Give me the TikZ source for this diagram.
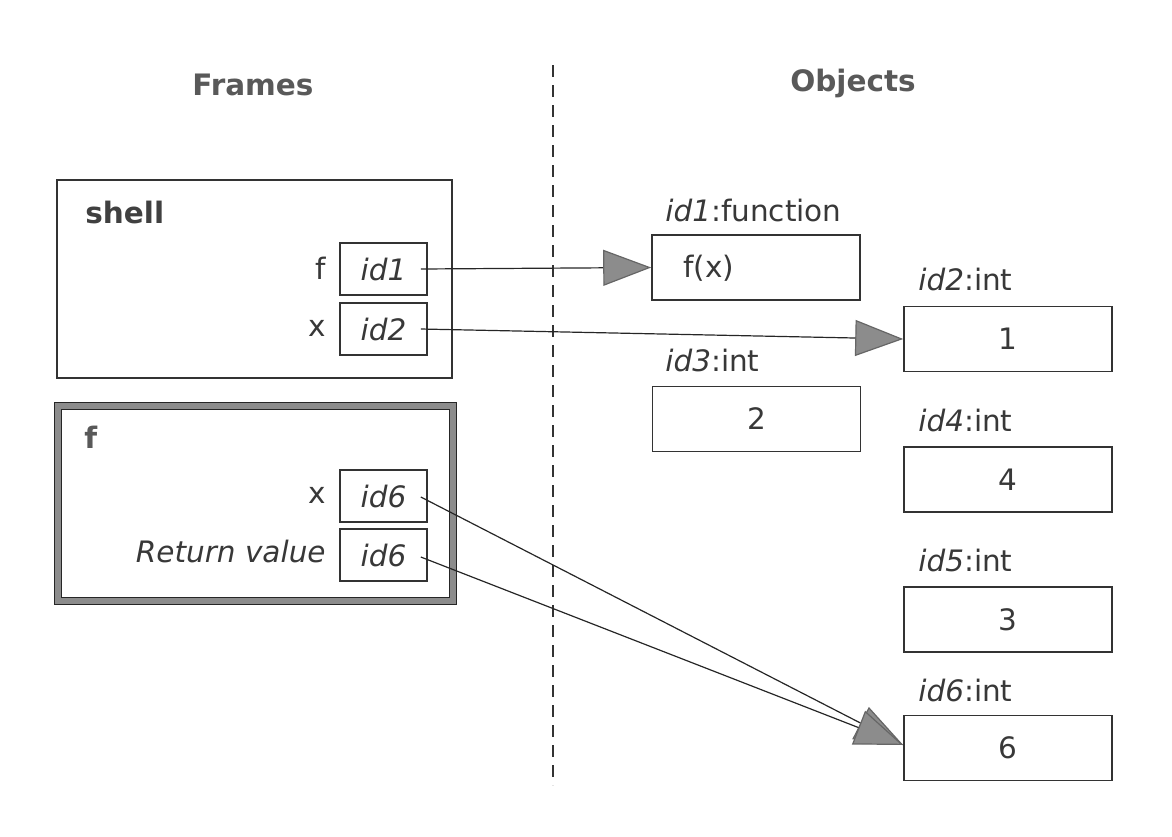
\documentclass[tikz,border=0pt]{standalone}
\usepackage{fontspec}
\setmainfont{DejaVu Sans}
\usetikzlibrary{arrows.meta}
\begin{document}
\begin{tikzpicture}[x=0.5pt,y=-0.5pt,
  every node/.style={font=\fontsize{14.75}{17}\selectfont, inner sep=0pt, text=black!78},
  hdr/.style={font=\fontsize{14.75}{17}\selectfont\bfseries, text=black!65},
  idbox/.style={draw=black!80, line width=0.8pt, minimum width=43.5pt, minimum height=26pt, font=\fontsize{14.75}{17}\selectfont\itshape},
  objbox/.style={draw=black!80, line width=0.8pt, minimum width=104pt, minimum height=32.5pt},
  ref/.style={line width=0.6pt, draw=black!85, -{Triangle[length=24pt,width=18pt,color=black!60,fill=black!45]}},
]
\useasboundingbox (0,0) rectangle (1172,836);
% divider
\coordinate (dtop) at (553,65);
\coordinate (dbot) at (553,785);
\draw[line width=0.6pt, black!80, dash pattern=on 6pt off 4pt] (dtop) -- (dbot);
% headers
\node[hdr] (hframes) at (253,85) {Frames};
\node[hdr] (hobjects) at (853,83) {Objects};
% shell frame
\node[draw=black!80, line width=0.8pt, minimum width=197.5pt, minimum height=99pt] (shell) at (254.5,279) {};
\node[hdr, text=black!75, anchor=west] (shellt) at (85,212) {shell};
\node[anchor=east] (lf) at (326,268) {f};
\node[idbox] (b1) at (383.5,269) {id1};
\node[anchor=east] (lx) at (326,328) {x};
\node[idbox] (b2) at (383.5,329) {id2};
% f frame
\node[draw=black!85, line width=0.4pt, double=black!45, double distance=3pt, minimum width=197.5pt, minimum height=97.5pt] (fframe) at (255.5,503.5) {};
\node[hdr, text=black!65, anchor=west] (ft) at (84,437) {f};
\node[anchor=east] (lx6) at (326,495) {x};
\node[idbox] (b6) at (383.5,496) {id6};
\node[anchor=east, font=\fontsize{14.75}{17}\selectfont\itshape] (lret) at (326,551) {Return value};
\node[idbox] (b7) at (383.5,555) {id6};
% objects
\node[anchor=west] (t1) at (665,210) {\textit{id1}:function};
\node[objbox] (o1) at (756,267.5) {};
\node[anchor=west] (v1) at (683,268) {f(x)};
\node[anchor=west] (t2) at (918,279) {\textit{id2}:int};
\node[objbox] (o2) at (1008,339) {1};
\node[anchor=west] (t3) at (665,360) {\textit{id3}:int};
\node[objbox] (o3) at (756.5,419) {2};
\node[anchor=west] (t4) at (918,420) {\textit{id4}:int};
\node[objbox] (o4) at (1008,479.5) {4};
\node[anchor=west] (t5) at (918,560) {\textit{id5}:int};
\node[objbox] (o5) at (1008,619.5) {3};
\node[anchor=west] (t6) at (918,690) {\textit{id6}:int};
\node[objbox] (o6) at (1008,748) {6};
% references
\draw[ref] ([xshift=-3.5pt]b1.east) -- (o1.west);
\draw[ref] ([xshift=-3.5pt]b2.east) -- (o2.west);
\draw[ref] ([xshift=-3.5pt,yshift=-0.5pt]b6.east) -- ([yshift=1.5pt]o6.west);
\draw[ref] ([xshift=-3.5pt,yshift=-1pt]b7.east) -- ([yshift=1.5pt]o6.west);
\end{tikzpicture}
\end{document}
